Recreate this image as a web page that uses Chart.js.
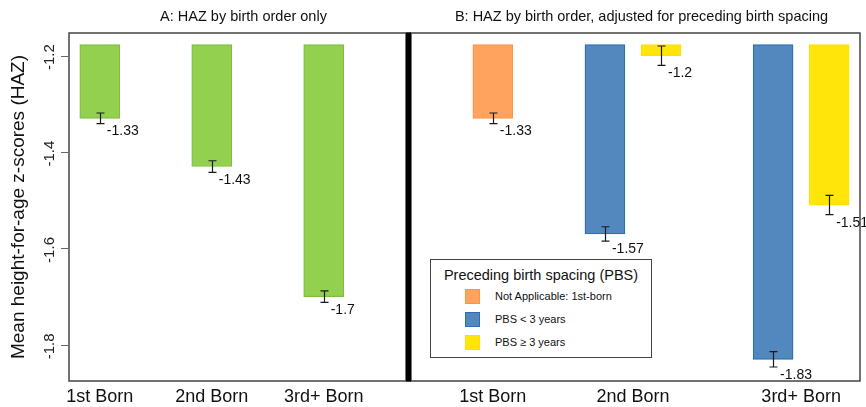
<!DOCTYPE html>
<html>
<head>
<meta charset="utf-8">
<script src="https://cdn.jsdelivr.net/npm/chart.js@4"></script>
<style>
  body { margin: 0; background: #fff; font-family: "Liberation Sans", Arial, sans-serif; }
  #wrap { position: relative; width: 866px; height: 407px; overflow: hidden; }
  #left { position: absolute; left: 0; top: 0; }
  #right { position: absolute; left: 406px; top: 0; }
  #legend { position: absolute; left: 430px; top: 259px; width: 220px; height: 97px; border: 1px solid #444; background: #fff; }
  #legend .ttl { position: absolute; left: 0; right: 0; top: 7px; text-align: center; font-size: 14.5px; color: #111; }
  #legend .item { position: absolute; left: 34px; height: 16px; font-size: 11px; color: #111; }
  #legend .sw { position: absolute; left: 0; top: 0; width: 13px; height: 13px; border: 1.5px solid; }
  #legend .lbl { position: absolute; left: 30px; top: 1px; white-space: nowrap; }
</style>
</head>
<body>
<div id="wrap">
  <canvas id="left" width="406" height="407"></canvas>
  <canvas id="right" width="460" height="407"></canvas>
  <div id="legend"></div>
</div>
<script>
// ---- data ----
const groups = ['1st Born', '2nd Born', '3rd+ Born'];
const yTicks = [-1.2, -1.4, -1.6, -1.8];
const barBase = -1.177;

// panel A
const hazA = [-1.33, -1.43, -1.70];
const errA = [0.011, 0.012, 0.012];

// panel B, by preceding birth spacing
const pbsLabels = ['Not Applicable: 1st-born', 'PBS < 3 years', 'PBS \u2265 3 years'];
const hazNA = [-1.33, null, null];
const hazShort = [null, -1.57, -1.83];
const hazLong = [null, -1.20, -1.51];
const errNA = [0.011, null, null];
const errShort = [null, 0.015, 0.016];
const errLong = [null, 0.020, 0.020];

const FONT = '"Liberation Sans", Arial, Helvetica, sans-serif';
const colors = {
  green: { fill: '#94D050', line: '#7DBE42' },
  orange: { fill: '#FFA35E', line: '#F7964A' },
  blue: { fill: '#5288BE', line: '#2F6DAE' },
  yellow: { fill: '#FFE50A', line: '#FFE000' }
};

// bars of a group sit side by side, one empty slot between groups
function layoutSlots(seriesList) {
  let slot = 0;
  const pos = seriesList.map(() => []);
  const centers = [];
  groups.forEach((g, i) => {
    const start = slot;
    seriesList.forEach((s, k) => {
      if (s[i] != null) { pos[k][i] = slot; slot++; } else pos[k][i] = null;
    });
    centers.push((start + slot - 1) / 2);
    slot++;
  });
  return { pos, centers };
}

function points(vals, errs, pos) {
  return vals.map((v, i) => v == null ? null : { x: pos[i], y: v, err: errs[i] }).filter(p => p);
}

const panelDecor = {
  id: 'panelDecor',
  afterDatasetsDraw(chart, args, opts) {
    const { ctx, chartArea: a, scales: { y } } = chart;
    ctx.save();
    ctx.strokeStyle = '#444';
    ctx.lineWidth = 1.5;
    ctx.strokeRect(a.left, a.top, a.right - a.left, a.bottom - a.top);
    if (opts.separator) {
      ctx.fillStyle = '#000';
      ctx.fillRect(a.left - 5, a.top - 0.75, 5, a.bottom - a.top + 1.5);
    }

    ctx.fillStyle = '#111';
    ctx.font = '14.5px ' + FONT;
    ctx.textAlign = 'center';
    ctx.textBaseline = 'middle';
    ctx.fillText(opts.title, (a.left + a.right) / 2 + 6, 17);

    if (opts.yLabels) {
      ctx.font = '15px ' + FONT;
      yTicks.forEach(t => {
        const py = y.getPixelForValue(t);
        ctx.strokeStyle = '#666';
        ctx.lineWidth = 1;
        ctx.beginPath();
        ctx.moveTo(a.left - 8, Math.round(py) + 0.5);
        ctx.lineTo(a.left, Math.round(py) + 0.5);
        ctx.stroke();
        ctx.save();
        ctx.translate(50, py + 1.5);
        ctx.rotate(-Math.PI / 2);
        ctx.fillStyle = '#222';
        ctx.fillText(String(t), 0, 0);
        ctx.restore();
      });
    }

    // error bars and value labels
    chart.data.datasets.forEach((ds, di) => {
      const meta = chart.getDatasetMeta(di);
      meta.data.forEach((bar, i) => {
        const p = ds.data[i];
        const x = Math.round(bar.x) + 0.5;
        const yHi = y.getPixelForValue(p.y + p.err);
        const yLo = y.getPixelForValue(p.y - p.err);
        ctx.strokeStyle = '#1a1a1a';
        ctx.lineWidth = 1.2;
        ctx.beginPath();
        ctx.moveTo(x, yHi); ctx.lineTo(x, yLo);
        ctx.moveTo(x - 4, yHi); ctx.lineTo(x + 4, yHi);
        ctx.moveTo(x - 4, yLo); ctx.lineTo(x + 4, yLo);
        ctx.stroke();
        ctx.fillStyle = '#111';
        ctx.font = '14px ' + FONT;
        ctx.textAlign = 'left';
        ctx.textBaseline = 'middle';
        ctx.fillText(String(p.y), bar.x + 7, yLo + 8);
      });
    });
    ctx.restore();
  }
};

function makeOptions(xMin, xMax, centers, padding, showY, decor) {
  return {
    responsive: false,
    animation: false,
    layout: { padding },
    plugins: { legend: { display: false }, tooltip: { enabled: false }, panelDecor: decor },
    scales: {
      x: {
        type: 'linear', min: xMin, max: xMax, offset: false,
        grid: { display: false, drawTicks: false }, border: { display: false },
        afterBuildTicks: s => { s.ticks = centers.map(v => ({ value: v })); },
        afterFit: s => { s.height = 26; },
        ticks: {
          autoSkip: false, maxRotation: 0, padding: 5, color: '#111',
          font: { family: FONT, size: 18 },
          callback: (v, i) => groups[i]
        }
      },
      y: {
        display: showY,
        min: -1.875, max: -1.153,
        grid: { display: false }, border: { display: false },
        ticks: { display: false },
        afterFit: s => { s.width = showY ? 69 : 0; },
        title: {
          display: true, text: 'Mean height-for-age z-scores (HAZ)',
          color: '#111', font: { family: FONT, size: 19 }, padding: { top: 7, bottom: 0 }
        }
      }
    }
  };
}

function barSet(data, c) {
  return {
    data, base: barBase, grouped: false, barThickness: 40,
    backgroundColor: c.fill, borderColor: c.line, borderWidth: 1.2, borderSkipped: false
  };
}

// panel A
const slotsA = layoutSlots([hazA]);
new Chart(document.getElementById('left'), {
  type: 'bar',
  data: { datasets: [barSet(points(hazA, errA, slotsA.pos[0]), colors.green)] },
  options: makeOptions(-0.55, 5.47, slotsA.centers, { top: 33, left: 0, right: 0, bottom: 0 }, true,
    { title: 'A: HAZ by birth order only', yLabels: true, separator: false }),
  plugins: [panelDecor]
});

// panel B
const slotsB = layoutSlots([hazNA, hazShort, hazLong]);
const seriesB = [
  { vals: hazNA, errs: errNA, c: colors.orange },
  { vals: hazShort, errs: errShort, c: colors.blue },
  { vals: hazLong, errs: errLong, c: colors.yellow }
];
new Chart(document.getElementById('right'), {
  type: 'bar',
  data: { datasets: seriesB.map((s, k) => Object.assign(barSet(points(s.vals, s.errs, slotsB.pos[k]), s.c), { label: pbsLabels[k] })) },
  options: makeOptions(-1.46, 6.55, slotsB.centers, { top: 33, left: 5, right: 6, bottom: 0 }, false,
    { title: 'B: HAZ by birth order, adjusted for preceding birth spacing', yLabels: false, separator: true }),
  plugins: [panelDecor]
});

// legend
const legend = document.getElementById('legend');
legend.innerHTML = '<div class="ttl">Preceding birth spacing (PBS)</div>' +
  seriesB.map((s, k) => `
    <div class="item" style="top:${29 + k * 23}px">
      <div class="sw" style="background:${s.c.fill};border-color:${s.c.line}"></div>
      <div class="lbl">${pbsLabels[k].replace('<', '&lt;')}</div>
    </div>`).join('');
</script>
</body>
</html>
